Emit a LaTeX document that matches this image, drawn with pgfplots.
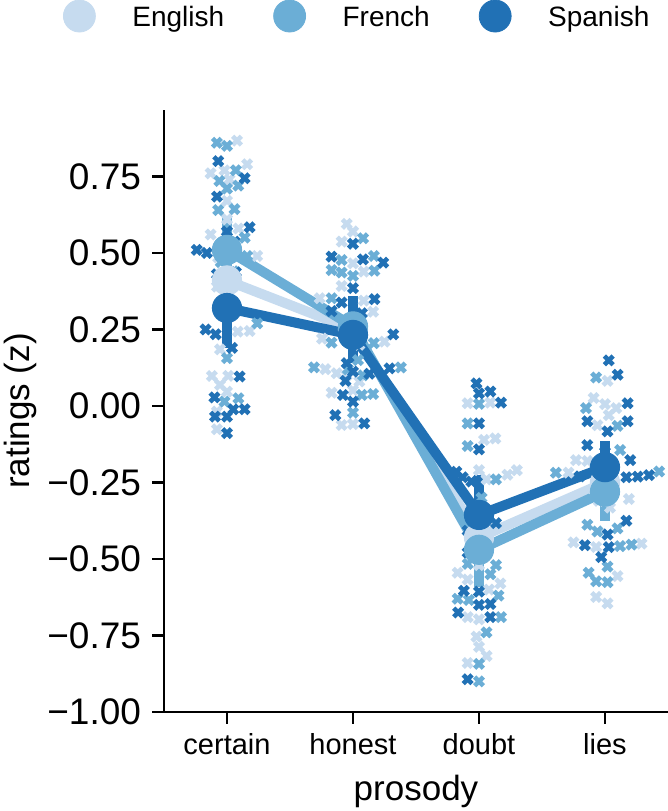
\documentclass[border=0pt]{standalone}
\usepackage{pgfplots}
\pgfplotsset{compat=1.18}
\usepackage{fontspec}
\setmainfont{Liberation Sans}
\definecolor{cE}{HTML}{C6DBEF}
\definecolor{cF}{HTML}{6BAED6}
\definecolor{cS}{HTML}{2171B5}
\pgfplotsset{leg/.style={legend image code/.code={\fill[#1] (8pt,1pt) circle (8pt); \path[draw=none] (0pt,0pt) -- (34.5pt,0pt);}}}

\pgfplotstableread{
x y
0.08 0.867
-0.13 0.76
-0.02 0.77
0.16 0.79
0.02 0.74
0.00 0.67
0.00 0.61
-0.13 0.56
0.09 0.58
-0.07 0.485
0.24 0.49
-0.08 0.39
0.18 0.245
0.085 0.243
-0.055 0.185
-0.12 0.098
0.01 0.098
-0.055 0.069
0.00 0.047
-0.08 -0.018
-0.08 -0.076
0.95 0.595
1.00 0.57
0.91 0.537
1.00 0.466
1.085 0.439
0.91 0.392
0.735 0.352
1.085 0.344
1.16 0.308
1.25 0.21
0.755 0.22
0.78 0.12
0.87 0.107
1.05 0.08
0.83 0.043
1.00 0.052
0.91 -0.062
1.00 -0.059
1.05 0.20
0.95 0.10
1.91 0.009
2.09 0.011
2.04 -0.111
2.13 -0.106
2.00 -0.21
2.225 -0.225
2.30 -0.21
2.06 -0.24
2.00 -0.52
1.83 -0.545
1.91 -0.567
2.17 -0.58
2.08 -0.60
1.91 -0.69
2.00 -0.697
1.98 -0.754
2.00 -0.787
2.06 -0.817
1.91 -0.84
1.93 -0.35
3.02 0.082
2.91 0.026
3.00 0.006
3.09 -0.007
2.94 -0.063
3.03 -0.03
2.77 -0.177
2.86 -0.18
2.71 -0.218
2.92 -0.276
3.19 -0.304
2.95 -0.31
3.04 -0.332
2.75 -0.446
2.93 -0.461
3.29 -0.45
3.10 -0.556
2.93 -0.624
3.02 -0.645
3.06 -0.25
}\ptsE

\pgfplotstableread{
x y
-0.08 0.86
0.00 0.85
0.07 0.77
-0.06 0.735
0.00 0.71
0.09 0.72
-0.07 0.64
0.06 0.643
0.14 0.55
0.16 0.49
0.24 0.27
0.00 0.156
0.09 0.025
-0.02 0.014
0.02 0.52
-0.05 0.47
0.05 0.44
-0.02 0.50
0.03 0.42
-0.04 0.42
1.08 0.548
0.91 0.477
1.165 0.49
0.83 0.444
0.91 0.436
1.00 0.425
1.17 0.442
0.83 0.352
1.165 0.205
0.83 0.207
0.69 0.126
1.38 0.126
1.07 0.036
1.16 0.039
1.00 -0.022
1.02 0.28
0.97 0.22
1.04 0.15
0.96 0.12
1.08 0.10
2.00 0.007
1.91 -0.057
1.91 -0.131
2.135 -0.24
1.91 -0.516
2.135 -0.52
2.09 -0.55
2.155 -0.62
1.83 -0.63
1.92 -0.634
2.175 -0.69
2.06 -0.74
2.00 -0.843
2.00 -0.90
2.02 -0.30
1.97 -0.35
2.03 -0.40
1.96 -0.42
2.05 -0.45
2.00 -0.42
2.93 0.093
2.85 -0.007
3.10 -0.065
3.12 -0.144
2.61 -0.218
3.43 -0.214
2.86 -0.388
2.94 -0.41
3.10 -0.40
3.12 -0.458
3.21 -0.453
3.02 -0.525
2.87 -0.545
2.93 -0.573
3.02 -0.576
3.00 -0.17
2.97 -0.22
3.03 -0.25
3.00 -0.30
2.98 -0.28
}\ptsF

\pgfplotstableread{
x y
-0.07 0.80
0.14 0.744
-0.08 0.684
0.00 0.57
0.18 0.584
0.06 0.537
-0.24 0.51
-0.16 0.50
-0.08 0.43
0.07 0.437
-0.17 0.25
-0.09 0.234
0.04 0.19
0.10 0.096
-0.10 0.028
0.05 -0.011
0.14 -0.011
-0.095 -0.035
0.00 -0.035
0.00 -0.089
1.00 0.53
0.83 0.488
1.08 0.479
1.24 0.468
1.00 0.385
0.91 0.338
0.83 0.31
1.17 0.349
1.07 0.303
1.32 0.234
0.95 0.14
1.00 0.112
1.13 0.105
1.29 0.123
0.94 0.082
0.92 0.036
1.00 0.014
0.86 -0.03
1.09 -0.057
1.00 0.24
1.98 0.074
2.00 0.041
2.09 0.047
2.175 0.011
2.00 -0.057
2.00 -0.142
1.82 -0.215
1.87 -0.233
1.94 -0.247
2.135 -0.383
1.91 -0.408
1.91 -0.479
1.88 -0.604
2.00 -0.607
2.00 -0.65
2.09 -0.647
1.835 -0.675
2.09 -0.69
1.91 -0.893
2.00 -0.44
3.03 0.149
3.10 0.102
3.18 0.009
2.86 -0.05
3.18 -0.05
3.02 -0.083
2.86 -0.128
3.20 -0.177
3.17 -0.233
3.26 -0.231
3.35 -0.226
3.17 -0.375
3.02 -0.42
2.84 -0.455
3.03 -0.461
2.97 -0.494
3.00 -0.15
2.97 -0.20
3.03 -0.25
3.00 -0.28
2.80 -0.23
}\ptsS

\begin{document}
\begin{tikzpicture}
\begin{axis}[
  scale only axis, width=252pt, height=301pt,
  xmin=-0.5, xmax=3.5, ymin=-1, ymax=0.967,
  axis lines=left, axis line style={-, line width=1.25pt, black},
  tick align=outside, major tick length=5.8pt,
  tick style={line width=1.25pt, black},
  xtick={0,1,2,3}, xticklabels={certain,honest,doubt,lies},
  ytick={-1,-0.75,-0.5,-0.25,0,0.25,0.5,0.75},
  yticklabels={−1.00,−0.75,−0.50,−0.25,0.00,0.25,0.50,0.75},
  x tick label style={font=\fontsize{14.5}{17}\selectfont, text height=10.4pt, text depth=3pt, yshift=-1.5pt},
  y tick label style={font=\fontsize{18.5}{22}\selectfont, inner sep=5.5pt},
  xlabel={prosody}, ylabel={ratings (z)},
  label style={font=\fontsize{17.5}{21}\selectfont},
  xlabel style={at={(axis description cs:0.5,-0.1462)}, anchor=base},
  ylabel style={at={(axis description cs:-0.3175,0.5)}, anchor=north, inner sep=0pt},
  clip=false,
  legend columns=3,
  legend cell align=left,
  legend style={at={(axis description cs:-0.2004,1.1561)}, anchor=west, draw=none, fill=none,
    inner sep=0pt, outer sep=0pt, font=\fontsize{14}{17}\selectfont, nodes={inner sep=0pt},
    /tikz/every even column/.append style={column sep=24.5pt}},
]
\addlegendimage{leg=cE}\addlegendentry{English}
\addlegendimage{leg=cF}\addlegendentry{French}
\addlegendimage{leg=cS}\addlegendentry{Spanish}

\addplot[only marks, mark=x, mark size=3.1pt, color=cE, mark options={line width=2.3pt}, forget plot] table[x=x,y=y] {\ptsE};
\addplot[only marks, mark=x, mark size=3.1pt, color=cF, mark options={line width=2.3pt}, forget plot] table[x=x,y=y] {\ptsF};
\addplot[only marks, mark=x, mark size=3.1pt, color=cS, mark options={line width=2.3pt}, forget plot] table[x=x,y=y] {\ptsS};

\addplot[forget plot, color=cE, line width=5pt, mark=*, mark size=7.3pt, mark options={line width=0.5pt, fill=cE, draw=cE},
  error bars/.cd, y dir=both, y explicit, error mark=none, error bar style={line width=5pt, color=cE}]
  coordinates {(0,0.41) += (0,0.11) -= (0,0.11)
               (1,0.25) += (0,0.07) -= (0,0.07)
               (2,-0.43) += (0,0.12) -= (0,0.12)
               (3,-0.25) += (0,0.08) -= (0,0.08)};
\addplot[forget plot, color=cF, line width=5pt, mark=*, mark size=7.3pt, mark options={line width=0.5pt, fill=cF, draw=cF},
  error bars/.cd, y dir=both, y explicit, error mark=none, error bar style={line width=5pt, color=cF}]
  coordinates {(0,0.51) += (0,0.11) -= (0,0.11)
               (1,0.26) += (0,0.09) -= (0,0.09)
               (2,-0.47) += (0,0.11) -= (0,0.12)
               (3,-0.28) += (0,0.09) -= (0,0.095)};
\addplot[forget plot, color=cS, line width=5pt, mark=*, mark size=7.3pt, mark options={line width=0.5pt, fill=cS, draw=cS},
  error bars/.cd, y dir=both, y explicit, error mark=none, error bar style={line width=5pt, color=cS}]
  coordinates {(0,0.32) += (0,0.135) -= (0,0.13)
               (1,0.232) += (0,0.128) -= (0,0.092)
               (2,-0.356) += (0,0.131) -= (0,0.131)
               (3,-0.20) += (0,0.085) -= (0,0.09)};
\end{axis}
\pgfresetboundingbox
\path[use as bounding box] (-82pt,-49.5pt) rectangle (252pt,356pt);
\end{tikzpicture}
\end{document}
